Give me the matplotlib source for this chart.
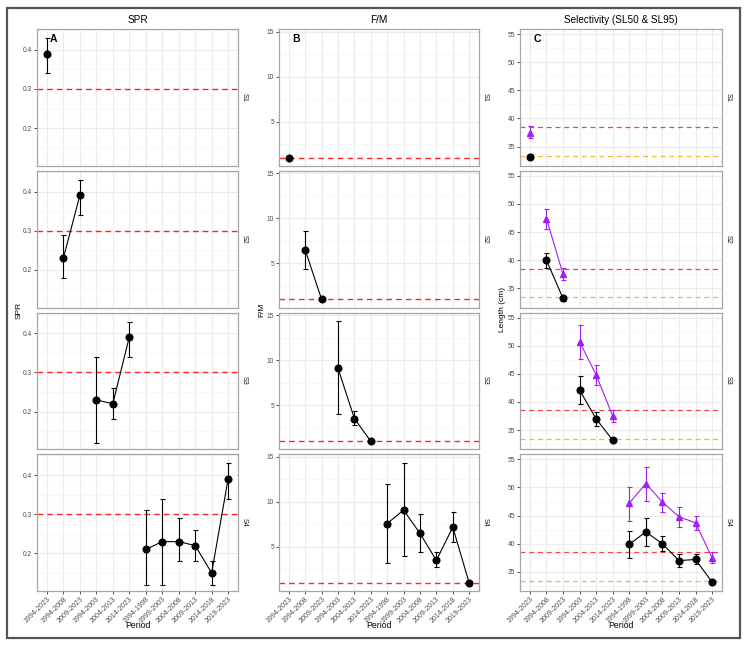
import matplotlib.pyplot as plt
import matplotlib.patches as mpatches
import numpy as np

plt.rcParams['font.family'] = ['Liberation Sans', 'DejaVu Sans']

# %% data
periods = ['1994-2023', '1994-2008', '2009-2023', '1994-2003', '2004-2013', '2014-2023',
           '1994-1998', '1999-2003', '2004-2008', '2009-2013', '2014-2018', '2019-2023']
scenarios = ['S1', 'S2', 'S3', 'S4']

# one row per (scenario, period) estimate
scenario = ['S1', 'S2', 'S2', 'S3', 'S3', 'S3', 'S4', 'S4', 'S4', 'S4', 'S4', 'S4']
period = ['1994-2023', '1994-2008', '2009-2023', '1994-2003', '2004-2013', '2014-2023',
          '1994-1998', '1999-2003', '2004-2008', '2009-2013', '2014-2018', '2019-2023']

spr = [0.39, 0.23, 0.39, 0.23, 0.22, 0.39, 0.21, 0.23, 0.23, 0.22, 0.15, 0.39]
spr_lo = [0.34, 0.18, 0.34, 0.12, 0.18, 0.34, 0.12, 0.12, 0.18, 0.18, 0.12, 0.34]
spr_hi = [0.43, 0.29, 0.43, 0.34, 0.26, 0.43, 0.31, 0.34, 0.29, 0.26, 0.18, 0.43]

fm = [1.0, 6.5, 1.0, 9.1, 3.5, 1.0, 7.6, 9.1, 6.5, 3.5, 7.2, 1.0]
fm_lo = [1.0, 4.4, 1.0, 4.0, 2.75, 1.0, 3.25, 4.0, 4.4, 2.75, 5.5, 1.0]
fm_hi = [1.0, 8.6, 1.0, 14.3, 4.4, 1.0, 11.95, 14.3, 8.7, 4.4, 8.85, 1.0]

sl50 = [33.2, 40.0, 33.2, 42.1, 37.0, 33.2, 39.9, 42.1, 40.0, 37.0, 37.2, 33.2]
sl50_lo = [32.8, 38.7, 32.8, 39.6, 35.8, 32.8, 37.5, 39.6, 38.7, 35.8, 36.4, 32.8]
sl50_hi = [33.6, 41.3, 33.6, 44.6, 38.2, 33.6, 42.3, 44.6, 41.3, 38.2, 38.1, 33.6]

sl95 = [37.5, 47.4, 37.5, 50.7, 44.8, 37.5, 47.2, 50.7, 47.4, 44.8, 43.7, 37.5]
sl95_lo = [36.5, 45.6, 36.5, 47.6, 43.0, 36.5, 44.1, 47.6, 45.6, 43.0, 42.5, 36.5]
sl95_hi = [38.6, 49.1, 38.6, 53.7, 46.5, 38.6, 50.1, 53.7, 49.1, 46.5, 44.95, 38.6]

spr_ref = 0.3
fm_ref = 1.0
sl_ref_red = 38.5
sl_ref_orange = 33.4

# %% layout helpers
W, H = 749, 645
fig = plt.figure(figsize=(W / 100, H / 100), dpi=100)

def px_axes(x0, y0, x1, y1):
    return fig.add_axes([x0 / W, 1 - y1 / H, (x1 - x0) / W, (y1 - y0) / H])

row_top = 29
row_h = 136.75
row_gap = 5
col_x = [(37, 238), (279, 479), (520, 722)]
titles = ['SPR', 'F/M', 'Selectivity (SL50 & SL95)']
ylabels = ['SPR', 'F/M', 'Length (cm)']
ylabel_x = [19, 262, 503]
letters = ['A', 'B', 'C']
ylims = [(0.104, 0.453), (0.1, 15.3), (31.6, 55.9)]
ymajor = [[0.2, 0.3, 0.4], [5, 10, 15], [35, 40, 45, 50, 55]]
yminor = [[0.15, 0.25, 0.35, 0.45], [2.5, 7.5, 12.5], [32.5, 37.5, 42.5, 47.5, 52.5]]
ylabfmt = ['{:.1f}', '{:g}', '{:g}']

grey_txt = '#4D4D4D'
purple = '#A020F0'

def series(sc, vals, lo, hi):
    idx = [i for i in range(len(scenario)) if scenario[i] == sc]
    x = np.array([periods.index(period[i]) for i in idx])
    v = np.array([vals[i] for i in idx])
    l = np.array([lo[i] for i in idx])
    h = np.array([hi[i] for i in idx])
    return x, v, np.vstack([v - l, h - v])

err_kw = dict(ms=4.8, lw=0.8, elinewidth=0.8, capsize=1.8, capthick=0.8, zorder=3)

# %% draw
for c in range(3):
    x0, x1 = col_x[c]
    for r, sc in enumerate(scenarios):
        y0 = row_top + r * (row_h + row_gap)
        ax = px_axes(x0, y0, x1, y0 + row_h)
        ax.set_xlim(-0.6, len(periods) - 0.4)
        ax.set_ylim(*ylims[c])
        ax.set_xticks(range(len(periods)))
        ax.set_yticks(ymajor[c])
        ax.set_yticks(yminor[c], minor=True)
        ax.set_yticklabels([ylabfmt[c].format(t) for t in ymajor[c]])
        ax.grid(which='major', color='#EBEBEB', lw=0.8, zorder=0)
        ax.grid(which='minor', axis='y', color='#F4F4F4', lw=0.5, zorder=0)
        ax.set_axisbelow(True)
        for s in ax.spines.values():
            s.set_color('#A6A6A6')
            s.set_linewidth(0.9)
        ax.tick_params(which='major', length=2, width=0.6, color='#333333',
                       labelsize=4.8, labelcolor=grey_txt, pad=1.5)
        ax.tick_params(which='minor', length=0)
        if r == 3:
            ax.set_xticklabels(periods, rotation=45, ha='right', rotation_mode='anchor',
                               fontsize=5)
        else:
            ax.tick_params(axis='x', length=0, labelbottom=False)

        if c == 0:
            ax.axhline(spr_ref, color='red', ls=(0, (4, 3)), lw=1, alpha=0.85, zorder=1)
            x, v, e = series(sc, spr, spr_lo, spr_hi)
            ax.errorbar(x, v, yerr=e, color='black', marker='o', **err_kw)
        elif c == 1:
            ax.axhline(fm_ref, color='red', ls=(0, (4, 3)), lw=1, alpha=0.85, zorder=1)
            x, v, e = series(sc, fm, fm_lo, fm_hi)
            ax.errorbar(x, v, yerr=e, color='black', marker='o', **err_kw)
        else:
            ax.axhline(sl_ref_red, color='red', ls=(0, (4, 3)), lw=0.9, alpha=0.75, zorder=1)
            ax.axhline(sl_ref_orange, color='orange', ls=(0, (4, 3)), lw=0.9, alpha=0.8, zorder=1)
            x, v, e = series(sc, sl50, sl50_lo, sl50_hi)
            ax.errorbar(x, v, yerr=e, color='black', marker='o', **err_kw)
            x, v, e = series(sc, sl95, sl95_lo, sl95_hi)
            ax.errorbar(x, v, yerr=e, color=purple, marker='^', **err_kw)

        # facet strip label on the right
        ax.text(1.0 + 6.5 / (x1 - x0), 0.5, sc, transform=ax.transAxes, rotation=-90,
                ha='center', va='center', fontsize=5.2, color='#1A1A1A')
        if r == 0:
            ax.set_title(titles[c], fontsize=7.2, pad=4)
            ax.text(0.065, 0.925, letters[c], transform=ax.transAxes, fontsize=7.5,
                    fontweight='bold', ha='left', va='center')

    fig.text(ylabel_x[c] / W, 1 - 310 / H, ylabels[c], rotation=90,
             ha='center', va='center', fontsize=6)
    fig.text((x0 + x1) / 2 / W, 1 - 626 / H, 'Period', ha='center', va='center', fontsize=6.2)

# outer frame around the whole composite
fig.add_artist(mpatches.Rectangle((7 / W, 1 - 638 / H), 733 / W, 630 / H,
                                  transform=fig.transFigure, fill=False,
                                  edgecolor='#555555', lw=1.6))

plt.savefig('out.png', dpi=100)
